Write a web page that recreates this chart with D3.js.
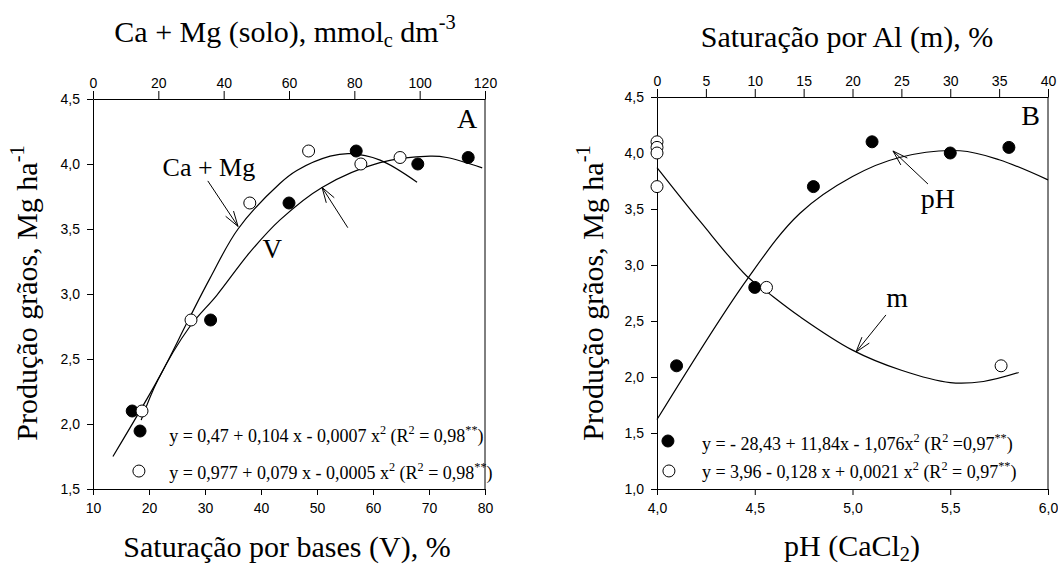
<html>
<head>
<meta charset="utf-8">
<script src="https://d3js.org/d3.v7.min.js"></script>
<style>
body { margin: 0; background: #fff; }
.tick text { font-family: "Liberation Sans", Arial, sans-serif; font-size: 14px; fill: #000; }
.serif { font-family: "Liberation Serif", "Times New Roman", serif; fill: #000; }
</style>
</head>
<body>
<script>
// ---- panel A : filled = V (bottom axis), open = Ca+Mg (top axis)
var vSat      = [17, 31, 45, 57, 68, 77];
var vProd     = [2.1, 2.8, 3.7, 4.1, 4.0, 4.05];
var caMg      = [15, 30, 48, 66, 82, 94];
var caMgProd  = [2.1, 2.8, 3.7, 4.1, 4.0, 4.05];
// fitted curves
var vCurveX    = [18.6, 21.6, 27.3, 32.1, 38, 43.4, 50.9, 61.25, 70.2, 73.2, 79.5];
var vCurveY    = [2.03, 2.34, 2.75, 2.99, 3.32, 3.57, 3.82, 4.01, 4.06, 4.05, 3.97];
var caMgCurveX = [6.1, 20.5, 28.8, 35.8, 44.4, 57.2, 62.4, 72.6, 78.7, 87.9, 99.2];
var caMgCurveY = [1.75, 2.37, 2.78, 3.12, 3.5, 3.85, 3.95, 4.06, 4.08, 4.03, 3.86];

// ---- panel B : filled = pH (bottom axis), open = m (top axis)
var phVal    = [4.1, 4.5, 4.8, 5.1, 5.5, 5.8];
var phProd   = [2.1, 2.8, 3.7, 4.1, 4.0, 4.05];
var mVal     = [0, 0, 0, 0, 11.2, 35.2];
var mProd    = [4.1, 4.05, 4.0, 3.7, 2.8, 2.1];
var phCurveX = [4.0, 4.46, 4.73, 5.0, 5.24, 5.55, 5.75, 6.0];
var phCurveY = [1.62, 2.87, 3.46, 3.79, 3.96, 4.02, 3.94, 3.76];
var mCurveX  = [0, 4.5, 9.2, 11.25, 14.6, 20, 25, 30, 33.4, 37];
var mCurveY  = [3.87, 3.38, 2.9, 2.76, 2.54, 2.24, 2.06, 1.95, 1.96, 2.04];

// ---- ticks
var ticksAV   = [10, 20, 30, 40, 50, 60, 70, 80];
var ticksACa  = [0, 20, 40, 60, 80, 100, 120];
var ticksAY   = [1.5, 2.0, 2.5, 3.0, 3.5, 4.0, 4.5];
var ticksBpH  = [4.0, 4.5, 5.0, 5.5, 6.0];
var ticksBm   = [0, 5, 10, 15, 20, 25, 30, 35, 40];
var ticksBY   = [1.0, 1.5, 2.0, 2.5, 3.0, 3.5, 4.0, 4.5];

var w = 1058, h = 567;
var svg = d3.select("body").append("svg").attr("width", w).attr("height", h);

var comma = function(d){ return d3.format(".1f")(d).replace(".", ","); };

// scales
var xA = d3.scaleLinear().domain([10, 80]).range([93, 485]);
var xAtop = d3.scaleLinear().domain([0, 120]).range([93, 485]);
var yA = d3.scaleLinear().domain([1.5, 4.5]).range([489, 99]);
var xB = d3.scaleLinear().domain([4, 6]).range([657, 1048]);
var xBtop = d3.scaleLinear().domain([0, 40]).range([657, 1048]);
var yB = d3.scaleLinear().domain([1, 4.5]).range([489, 97]);

function axes(x, xt, y, tb, tt, ty, fb) {
  var g = svg.append("g");
  g.append("g").attr("transform", "translate(0," + y.range()[0] + ")")
    .call(d3.axisBottom(x).tickValues(tb).tickFormat(fb).tickSize(6).tickSizeOuter(0).tickPadding(8));
  g.append("g").attr("transform", "translate(0," + y.range()[1] + ")")
    .call(d3.axisTop(xt).tickValues(tt).tickFormat(d3.format("d")).tickSize(8).tickSizeOuter(0).tickPadding(3));
  g.append("g").attr("transform", "translate(" + x.range()[0] + ",0)")
    .call(d3.axisLeft(y).tickValues(ty).tickFormat(comma).tickSize(6).tickSizeOuter(0).tickPadding(7));
  g.append("line").attr("x1", x.range()[1]).attr("x2", x.range()[1])
    .attr("y1", y.range()[0]).attr("y2", y.range()[1]).attr("stroke", "#000");
  g.selectAll(".domain").attr("stroke", "#000");
  g.selectAll(".tick line").attr("stroke", "#000");
}

function curve(x, y, xs, ys) {
  var line = d3.line().x(function(d){ return x(d[0]); }).y(function(d){ return y(d[1]); }).curve(d3.curveCatmullRom.alpha(0.5));
  svg.append("path").attr("d", line(d3.zip(xs, ys)))
    .attr("fill", "none").attr("stroke", "#000").attr("stroke-width", 1.2);
}

function dots(x, y, xs, ys, filled) {
  svg.append("g").selectAll("circle").data(d3.zip(xs, ys)).enter().append("circle")
    .attr("cx", function(d){ return x(d[0]); }).attr("cy", function(d){ return y(d[1]); })
    .attr("r", 6).attr("fill", filled ? "#000" : "#fff").attr("stroke", "#000").attr("stroke-width", 1);
}

function rich(parts, px, py, size, anchor, rotate) {
  var t = svg.append("text").attr("class", "serif").attr("font-size", size)
    .attr("text-anchor", anchor || "start");
  if (rotate) t.attr("transform", "translate(" + px + "," + py + ") rotate(-90)");
  else t.attr("x", px).attr("y", py);
  var shift = 0;
  parts.forEach(function(p){
    var s = p[1] === "sup" ? -0.42 * size : (p[1] === "sub" ? 0.18 * size : 0);
    t.append("tspan").attr("dy", s - shift).attr("font-size", p[1] ? size * 0.68 : size).text(p[0]);
    shift = s;
  });
  return t;
}

function arrow(x0, y0, x1, y1) {
  var a = Math.atan2(y1 - y0, x1 - x0), L = 16, s = 0.3;
  var p = "M" + x0 + "," + y0 + "L" + x1 + "," + y1 +
    "M" + (x1 - L * Math.cos(a - s)) + "," + (y1 - L * Math.sin(a - s)) + "L" + x1 + "," + y1 +
    "L" + (x1 - L * Math.cos(a + s)) + "," + (y1 - L * Math.sin(a + s));
  svg.append("path").attr("d", p).attr("fill", "none").attr("stroke", "#000").attr("stroke-width", 1);
}

var eqEnd = function(r){ return [["2", "sup"], [" (R"], ["2", "sup"], [r], ["**", "sup"], [")"]]; };

// ---------- panel A
axes(xA, xAtop, yA, ticksAV, ticksACa, ticksAY, d3.format("d"));
curve(xAtop, yA, caMgCurveX, caMgCurveY);
curve(xA, yA, vCurveX, vCurveY);
dots(xA, yA, vSat, vProd, true);
dots(xAtop, yA, caMg, caMgProd, false);

rich([["Ca + Mg"]], xA(30.7), yA(3.91), 26, "middle");
arrow(xA(30.5), yA(3.87), xA(35.9), yA(3.52));
rich([["V"]], xA(42), yA(3.28), 27, "middle");
arrow(xA(55.5), yA(3.51), xA(50.9), yA(3.82));
rich([["A"]], xA(78.6), yA(4.28), 28, "end");

dots(xA, yA, [18.4], [1.946], true);
dots(xA, yA, [18.2], [1.638], false);
rich([["y = 0,47 + 0,104 x - 0,0007 x"]].concat(eqEnd(" = 0,98")), xA(23.6), yA(1.862), 18);
rich([["y = 0,977 + 0,079 x - 0,0005 x"]].concat(eqEnd(" = 0,98")), xA(23.6), yA(1.577), 18);

rich([["Ca + Mg (solo), mmol"], ["c", "sub"], [" dm"], ["-3", "sup"]], 285, 42, 30, "middle");
rich([["Saturação por bases (V), %"]], 287, 557, 30, "middle");
rich([["Produção grãos, Mg ha"], ["-1", "sup"]], 37, 293, 30, "middle", true);

// ---------- panel B
axes(xB, xBtop, yB, ticksBpH, ticksBm, ticksBY, comma);
curve(xB, yB, phCurveX, phCurveY);
curve(xBtop, yB, mCurveX, mCurveY);
dots(xB, yB, phVal, phProd, true);
dots(xBtop, yB, mVal, mProd, false);

rich([["pH"]], xB(5.437), yB(3.509), 28, "middle");
arrow(xB(5.386), yB(3.723), xB(5.207), yB(4.018));
rich([["m"]], xB(5.228), yB(2.625), 28, "middle");
arrow(xB(5.171), yB(2.554), xB(5.018), yB(2.223));
rich([["B"]], xB(5.959), yB(4.25), 28, "end");

dots(xB, yB, [4.056], [1.4286], true);
dots(xB, yB, [4.061], [1.161], false);
rich([["y = - 28,43 + 11,84x - 1,076x"]].concat(eqEnd(" =0,97")), xB(4.23), yB(1.348), 18);
rich([["y = 3,96 - 0,128 x + 0,0021 x"]].concat(eqEnd(" = 0,97")), xB(4.23), yB(1.098), 18);

rich([["Saturação por Al (m), %"]], 847, 47, 30, "middle");
rich([["pH (CaCl"], ["2", "sub"], [")"]], 852, 556, 30, "middle");
rich([["Produção grãos, Mg ha"], ["-1", "sup"]], 603, 293, 30, "middle", true);
</script>
</body>
</html>
